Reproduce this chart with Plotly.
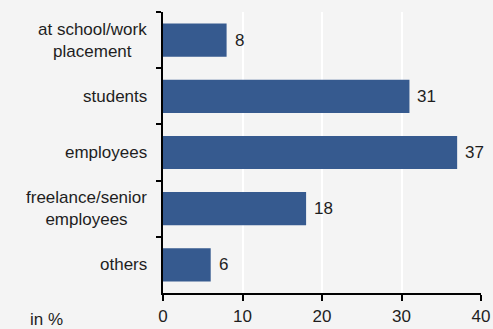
import plotly.graph_objects as go

# Share of respondents by occupational status (in %)
categories = [
    "at school/work<br>placement",
    "students",
    "employees",
    "freelance/senior<br>employees",
    "others",
]
values = [8, 31, 37, 18, 6]
x_ticks = [0, 10, 20, 30, 40]
unit_label = "in %"

BAR_COLOR = "#365a8f"
TEXT_COLOR = "#1e1e1e"
FONT = "Liberation Sans, Arial, sans-serif"
FONT_SIZE = 17

W, H = 493, 329
ML, MR, MT, MB = 163, 12, 12, 36

fig = go.Figure(
    go.Bar(
        x=values,
        y=categories,
        orientation="h",
        marker=dict(color=BAR_COLOR, line=dict(width=0)),
        width=0.59,
        hoverinfo="skip",
    )
)

annotations = []
# value labels just beyond each bar end
for cat, val in zip(categories, values):
    annotations.append(
        dict(
            x=val, y=cat, xref="x", yref="y",
            text=str(val), showarrow=False,
            xanchor="left", yanchor="middle", xshift=6,
            font=dict(family=FONT, size=FONT_SIZE, color=TEXT_COLOR),
        )
    )
# category labels, centred line by line, right-aligned to the axis
for cat in categories:
    annotations.append(
        dict(
            x=0, y=cat, xref="paper", yref="y",
            text=cat, showarrow=False,
            xanchor="right", yanchor="middle", align="center", xshift=-14,
            font=dict(family=FONT, size=FONT_SIZE, color=TEXT_COLOR),
        )
    )
# unit label beside the x tick labels (pixel position converted to paper units)
annotations.append(
    dict(
        x=(46 - ML) / (W - ML - MR), y=(H - MB - 319) / (H - MT - MB),
        xref="paper", yref="paper",
        text=unit_label, showarrow=False,
        xanchor="center", yanchor="middle",
        font=dict(family=FONT, size=FONT_SIZE, color=TEXT_COLOR),
    )
)

fig.update_layout(
    width=W, height=H,
    margin=dict(l=ML, r=MR, t=MT, b=MB, pad=0, autoexpand=False),
    paper_bgcolor="#f4f4f4",
    plot_bgcolor="#f4f4f4",
    showlegend=False,
    font=dict(family=FONT, size=FONT_SIZE, color=TEXT_COLOR),
    annotations=annotations,
    xaxis=dict(
        range=[0, 40],
        tickmode="array",
        tickvals=x_ticks,
        ticktext=[str(t) for t in x_ticks],
        showgrid=True, gridcolor="#ffffff", gridwidth=1.5,
        zeroline=False,
        showline=True, linecolor="#000000", linewidth=2,
        ticks="outside", ticklen=6, tickwidth=2, tickcolor="#000000",
        tickfont=dict(family=FONT, size=FONT_SIZE, color=TEXT_COLOR),
        ticklabelstandoff=1,
        automargin=False,
        fixedrange=True,
    ),
    yaxis=dict(
        categoryorder="array",
        categoryarray=categories,
        autorange="reversed",
        showgrid=False, zeroline=False,
        showline=True, linecolor="#000000", linewidth=2,
        ticks="outside", ticklen=5, tickwidth=2, tickcolor="#000000",
        tickson="boundaries",
        showticklabels=False,
        automargin=False,
        fixedrange=True,
    ),
)

fig.write_html("out.html")
